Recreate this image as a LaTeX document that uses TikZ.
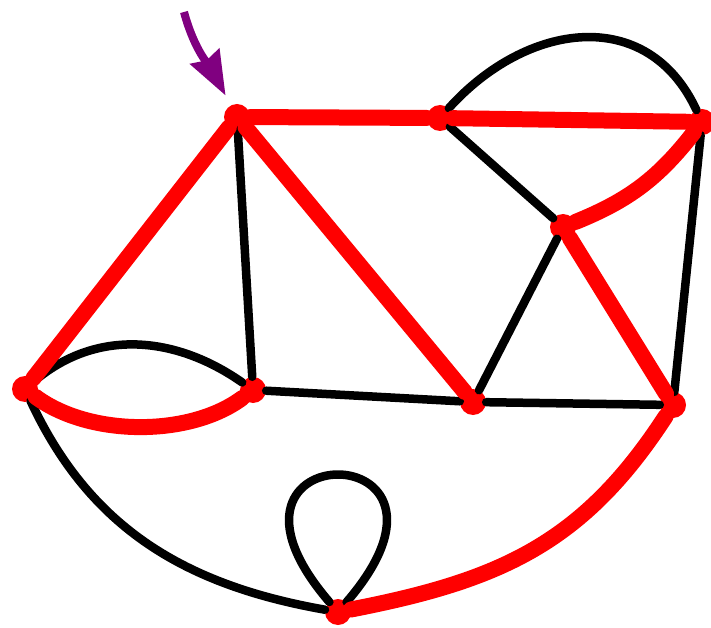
\documentclass[tikz,border=0pt]{standalone}
\usepackage{xcolor}
\usepackage{tikz}
\usetikzlibrary{arrows.meta}
\definecolor{tree}{HTML}{FF0000}
\definecolor{plum}{HTML}{800080}

\begin{document}
\begin{tikzpicture}[
  x=1pt,y=1pt,
  vtx/.style={circle,fill=tree,minimum size=26pt,inner sep=0pt},
  blk/.style={draw=black,line width=8.5pt,line cap=round,line join=round},
  hot/.style={draw=tree,line width=16pt,line cap=round,line join=round},
  ptr/.style={-{Stealth[length=44pt,width=32pt,inset=4pt]},draw=plum,line width=8pt,shorten >=11pt}
]
\useasboundingbox (0,0) rectangle (711,627);
\node[vtx] (a) at (237,510) {};
\node[vtx] (b) at (440,509) {};
\node[vtx] (c) at (702,505) {};
\node[vtx] (d) at (563,400) {};
\node[vtx] (e) at (25,238) {};
\node[vtx] (f) at (253,237) {};
\node[vtx] (g) at (473,225) {};
\node[vtx] (h) at (673,222) {};
\node[vtx] (i) at (338,15) {};
\coordinate (tail) at (184,615);
\draw[blk] (a)--(f); \draw[blk] (b)--(d); \draw[blk] (d)--(g);
\draw[blk] (c)--(h); \draw[blk] (f)--(g); \draw[blk] (g)--(h);
\draw[blk] (b) to[out=48,in=115,looseness=1.2] (c);
\draw[blk] (e) to[out=40,in=145] (f);
\draw[blk] (e) to[out=-65,in=170] (i);
\draw[blk] (i) .. controls +(-155,180) and +(155,180) .. (i);
\draw[hot] (a)--(b); \draw[hot] (b)--(c); \draw[hot] (c) to[bend left=15] (d);
\draw[hot] (d)--(h); \draw[hot] (a)--(e); \draw[hot] (a)--(g);
\draw[hot] (e) .. controls (90,190) and (190,190) .. (f);
\draw[hot] (h) to[out=-123,in=11,looseness=1.05] (i);
\draw[ptr] (tail) to[out=-75,in=118] (a);
\end{tikzpicture}
\end{document}
